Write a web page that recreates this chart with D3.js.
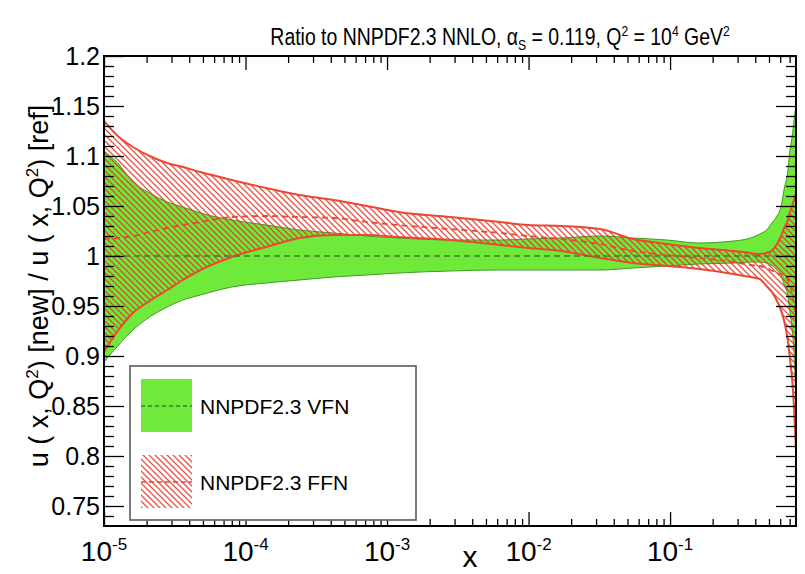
<!DOCTYPE html>
<html>
<head>
<meta charset="utf-8">
<script src="https://cdn.jsdelivr.net/npm/d3@7"></script>
<style>
  body { margin: 0; background: #fff; }
  text { font-family: "Liberation Sans", Arial, sans-serif; fill: #000; }
</style>
</head>
<body>
<svg id="plot"></svg>
<script>

// x grid (momentum fraction) shared by all curves
var xs = [1e-5, 1.25e-5, 1.6e-5, 2.1e-5, 2.8e-5, 3.6e-5, 4.8e-5, 8e-5, 1.4e-4, 2.4e-4,
          4.2e-4, 7.2e-4, 1.2e-3, 2.8e-3, 6.3e-3, 1e-2, 1.7e-2, 3.2e-2, 5.5e-2, 0.095,
          0.16, 0.28, 0.37, 0.43, 0.48, 0.53, 0.57, 0.61, 0.64, 0.68,
          0.70, 0.73, 0.75, 0.776];

// NNPDF2.3 VFN band (green)
var vfnUp = [1.105, 1.093, 1.074, 1.063, 1.054, 1.049, 1.043, 1.036, 1.031, 1.026,
             1.023, 1.020, 1.018, 1.016, 1.016, 1.017, 1.018, 1.020, 1.018, 1.016,
             1.013, 1.015, 1.018, 1.022, 1.026, 1.034, 1.040, 1.050, 1.067, 1.085,
             1.103, 1.120, 1.135, 1.150];
var vfnDn = [0.894, 0.910, 0.926, 0.939, 0.949, 0.956, 0.961, 0.969, 0.973, 0.976,
             0.979, 0.981, 0.983, 0.985, 0.986, 0.986, 0.986, 0.986, 0.988, 0.990,
             0.992, 0.993, 0.994, 0.994, 0.993, 0.990, 0.986, 0.980, 0.971, 0.960,
             0.946, 0.925, 0.906, 0.853];
var vfnCv = [1, 1, 1, 1, 1, 1, 1, 1, 1, 1,
             1, 1, 1, 1, 1, 1, 1, 1, 1, 1,
             1, 1, 1, 1, 1, 1, 1, 1, 1, 1,
             1, 1, 1, 1];

// NNPDF2.3 FFN band (red hatched)
var ffnUp = [1.135, 1.120, 1.109, 1.100, 1.093, 1.089, 1.084, 1.076, 1.068, 1.061,
             1.056, 1.050, 1.044, 1.039, 1.034, 1.031, 1.030, 1.027, 1.017, 1.012,
             1.008, 1.005, 1.003, 1.002, 1.003, 1.006, 1.012, 1.020, 1.028, 1.036,
             1.043, 1.050, 1.056, 1.063];
var ffnDn = [0.904, 0.925, 0.943, 0.955, 0.966, 0.976, 0.986, 0.999, 1.009, 1.018,
             1.021, 1.021, 1.019, 1.016, 1.011, 1.008, 1.005, 0.998, 0.993, 0.990,
             0.987, 0.982, 0.979, 0.977, 0.970, 0.963, 0.955, 0.945, 0.935, 0.915,
             0.900, 0.875, 0.850, 0.805];
var ffnCv = [1.017, 1.018, 1.020, 1.024, 1.028, 1.031, 1.034, 1.039, 1.040, 1.039,
             1.038, 1.034, 1.031, 1.027, 1.023, 1.020, 1.017, 1.012, 1.005, 1.001,
             0.998, 0.994, 0.991, 0.990, 0.988, 0.985, 0.983, 0.982, 0.981, 0.976,
             0.972, 0.963, 0.953, 0.934];

// axis ticks
var yMajor = [0.75, 0.8, 0.85, 0.9, 0.95, 1, 1.05, 1.1, 1.15, 1.2];
var yLabels = ["0.75", "0.8", "0.85", "0.9", "0.95", "1", "1.05", "1.1", "1.15", "1.2"];
var xDecades = [-5, -4, -3, -2, -1];

var legendNames = ["NNPDF2.3 VFN", "NNPDF2.3 FFN"];

var green = "#6fea3a", greenEdge = "#3f9a25", greenDash = "#3d7f2a";
var red = "#ef4633";

var svg = d3.select("#plot").attr("width", 805).attr("height", 574);

var frame = {left: 104, right: 796, top: 56, bottom: 526};

var xScale = d3.scaleLog().domain([1e-5, 0.776]).range([frame.left, frame.right]);
var yScale = d3.scaleLinear().domain([0.73, 1.2]).range([frame.bottom, frame.top]);

var defs = svg.append("defs");
defs.append("clipPath").attr("id", "clip")
    .append("rect")
    .attr("x", frame.left).attr("y", frame.top)
    .attr("width", frame.right - frame.left).attr("height", frame.bottom - frame.top);

var hatch = defs.append("pattern")
    .attr("id", "hatch")
    .attr("patternUnits", "userSpaceOnUse")
    .attr("width", 6).attr("height", 6);
hatch.append("path")
    .attr("d", "M0,0L6,6M-1,5L1,7M5,-1L7,1")
    .attr("stroke", "#d9382a")
    .attr("stroke-width", 1.3)
    .attr("stroke-opacity", 0.85);

var vfn = xs.map(function(x, i) { return {x: x, up: vfnUp[i], dn: vfnDn[i], cv: vfnCv[i]}; });
var ffn = xs.map(function(x, i) { return {x: x, up: ffnUp[i], dn: ffnDn[i], cv: ffnCv[i]}; });

var area = d3.area()
    .x(function(d) { return xScale(d.x); })
    .y0(function(d) { return yScale(d.dn); })
    .y1(function(d) { return yScale(d.up); })
    .curve(d3.curveMonotoneX);

var lineOf = function(key) {
    return d3.line()
        .x(function(d) { return xScale(d.x); })
        .y(function(d) { return yScale(d[key]); })
        .curve(d3.curveMonotoneX);
};

var plot = svg.append("g").attr("clip-path", "url(#clip)");

// green band
plot.append("path").datum(vfn)
    .attr("d", area)
    .attr("fill", green);
["up", "dn"].forEach(function(k) {
    plot.append("path").datum(vfn)
        .attr("d", lineOf(k))
        .attr("fill", "none")
        .attr("stroke", greenEdge)
        .attr("stroke-width", 1);
});

// red hatched band
plot.append("path").datum(ffn)
    .attr("d", area)
    .attr("fill", "url(#hatch)");
["up", "dn"].forEach(function(k) {
    plot.append("path").datum(ffn)
        .attr("d", lineOf(k))
        .attr("fill", "none")
        .attr("stroke", red)
        .attr("stroke-width", 2);
});

// central values
plot.append("path").datum(vfn)
    .attr("d", lineOf("cv"))
    .attr("fill", "none")
    .attr("stroke", greenDash)
    .attr("stroke-width", 1.5)
    .attr("stroke-dasharray", "6,4");
plot.append("path").datum(ffn)
    .attr("d", lineOf("cv"))
    .attr("fill", "none")
    .attr("stroke", red)
    .attr("stroke-width", 1.8)
    .attr("stroke-dasharray", "6,4");

// minor ticks
var xMinor = [];
xDecades.forEach(function(d) {
    for (var m = 2; m <= 9; m++) {
        var v = m * Math.pow(10, d);
        if (v <= 0.776) xMinor.push(v);
    }
});
var xMajorVals = xDecades.map(function(d) { return Math.pow(10, d); });
var yMinor = d3.range(74, 121).map(function(v) { return v / 100; })
    .filter(function(v) { return Math.round(v * 100) % 5 != 0; });

var axes = svg.append("g").attr("class", "axes");

var addAxis = function(gen, tf, vals, size) {
    var g = axes.append("g")
        .attr("transform", tf)
        .call(gen.tickValues(vals).tickSize(size).tickFormat(""));
    g.select(".domain").remove();
    g.selectAll(".tick line").attr("stroke", "#000").attr("stroke-width", 1.3);
};

addAxis(d3.axisBottom(xScale), "translate(0," + frame.bottom + ")", xMinor, -7);
addAxis(d3.axisBottom(xScale), "translate(0," + frame.bottom + ")", xMajorVals, -14);
addAxis(d3.axisTop(xScale), "translate(0," + frame.top + ")", xMinor, -7);
addAxis(d3.axisTop(xScale), "translate(0," + frame.top + ")", xMajorVals, -14);
addAxis(d3.axisLeft(yScale), "translate(" + frame.left + ",0)", yMinor, -10);
addAxis(d3.axisLeft(yScale), "translate(" + frame.left + ",0)", yMajor, -20);
addAxis(d3.axisRight(yScale), "translate(" + frame.right + ",0)", yMinor, -10);
addAxis(d3.axisRight(yScale), "translate(" + frame.right + ",0)", yMajor, -20);

// frame
svg.append("rect")
    .attr("x", frame.left).attr("y", frame.top)
    .attr("width", frame.right - frame.left).attr("height", frame.bottom - frame.top)
    .attr("fill", "none").attr("stroke", "#000").attr("stroke-width", 2);

// y tick labels
svg.append("g").selectAll("text")
    .data(yMajor)
    .enter()
    .append("text")
    .attr("x", 100)
    .attr("y", function(d) { return yScale(d); })
    .attr("dy", "0.36em")
    .attr("text-anchor", "end")
    .style("font-size", "25px")
    .text(function(d, i) { return yLabels[i]; });

// x tick labels
var xl = svg.append("g").selectAll("text")
    .data(xDecades)
    .enter()
    .append("text")
    .attr("x", function(d) { return xScale(Math.pow(10, d)); })
    .attr("y", 561)
    .attr("text-anchor", "middle")
    .style("font-size", "28px");
xl.append("tspan").text("10");
xl.append("tspan").attr("dy", -11).style("font-size", "17px").text(function(d) { return d; });

// axis titles
svg.append("text")
    .attr("x", 470).attr("y", 567)
    .attr("text-anchor", "middle")
    .style("font-size", "30px")
    .text("x");

var yt = svg.append("text")
    .attr("transform", "translate(48,286) rotate(-90)")
    .attr("text-anchor", "middle")
    .style("font-size", "27px");
yt.append("tspan").text("u ( x, Q");
yt.append("tspan").attr("dy", -10).style("font-size", "17px").text("2");
yt.append("tspan").attr("dy", 10).text(") [new] / u ( x, Q");
yt.append("tspan").attr("dy", -10).style("font-size", "17px").text("2");
yt.append("tspan").attr("dy", 10).text(") [ref]");

// title (narrow, like the original)
var title = svg.append("text")
    .attr("transform", "translate(500,45) scale(0.81,1)")
    .attr("text-anchor", "middle")
    .style("font-size", "24px");
title.append("tspan").text("Ratio to NNPDF2.3 NNLO, \u03b1");
title.append("tspan").attr("dy", 5).style("font-size", "15px").text("S");
title.append("tspan").attr("dy", -5).text(" = 0.119, Q");
title.append("tspan").attr("dy", -9).style("font-size", "15px").text("2");
title.append("tspan").attr("dy", 9).text(" = 10");
title.append("tspan").attr("dy", -9).style("font-size", "15px").text("4");
title.append("tspan").attr("dy", 9).text(" GeV");
title.append("tspan").attr("dy", -9).style("font-size", "15px").text("2");

// legend
var legend = svg.append("g");
legend.append("rect")
    .attr("x", 130).attr("y", 366)
    .attr("width", 286).attr("height", 154)
    .attr("fill", "#fff")
    .attr("stroke", "#6b6b6b")
    .attr("stroke-width", 1.8);

legend.append("rect")
    .attr("x", 141).attr("y", 379)
    .attr("width", 51).attr("height", 53)
    .attr("fill", green);
legend.append("line")
    .attr("x1", 141).attr("x2", 192).attr("y1", 406).attr("y2", 406)
    .attr("stroke", greenDash).attr("stroke-width", 1.5).attr("stroke-dasharray", "4,3");

legend.append("rect")
    .attr("x", 141).attr("y", 455)
    .attr("width", 51).attr("height", 53)
    .attr("fill", "url(#hatch)");
legend.append("line")
    .attr("x1", 141).attr("x2", 192).attr("y1", 482).attr("y2", 482)
    .attr("stroke", red).attr("stroke-width", 1.5).attr("stroke-dasharray", "5,3");

legend.selectAll(".lab")
    .data(legendNames)
    .enter()
    .append("text")
    .attr("x", 200)
    .attr("y", function(d, i) { return i == 0 ? 414 : 490; })
    .style("font-size", "21px")
    .text(function(d) { return d; });

</script>
</body>
</html>
